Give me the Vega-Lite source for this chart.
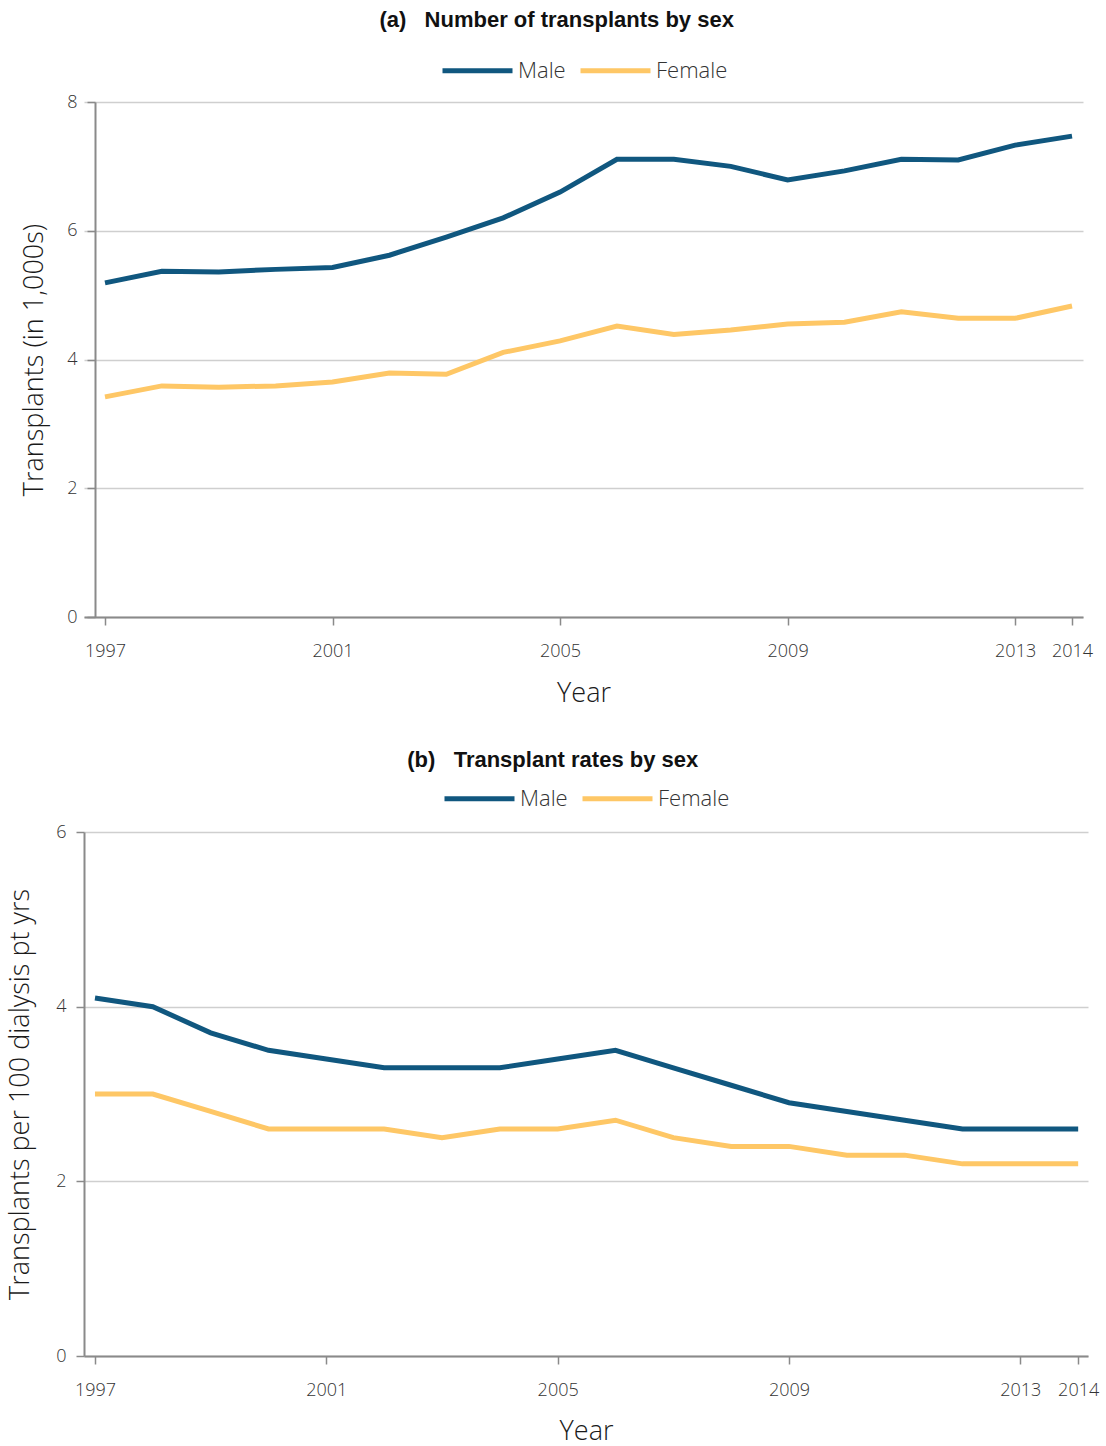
{
  "$schema": "https://vega.github.io/schema/vega-lite/v6.json",
  "background": "white",
  "padding": {"left": 6, "top": 9, "right": 4, "bottom": 0},
  "columns": 1,
  "spacing": 43,
  "align": "none",
  "config": {
    "view": {"stroke": null},
    "font": "Open Sans",
    "axis": {
      "domainColor": "#8a8a8a",
      "domainWidth": 2,
      "tickColor": "#8a8a8a",
      "tickWidth": 1.5,
      "tickSize": 8,
      "gridColor": "#cfcfcf",
      "gridWidth": 1.5,
      "labelColor": "#333333",
      "labelFont": "Open Sans",
      "labelFontWeight": 300,
      "labelFontSize": 18,
      "labelOverlap": false,
      "titleFont": "Open Sans",
      "titleFontWeight": 300,
      "titleFontSize": 27,
      "titleColor": "#1a1a1a"
    },
    "legend": {
      "labelFont": "Open Sans",
      "labelFontWeight": 300,
      "labelFontSize": 22,
      "labelColor": "#333333",
      "layout": {"top": {"anchor": "middle"}}
    },
    "title": {"font": "Liberation Sans", "fontSize": 22, "fontWeight": "bold", "color": "#111111", "anchor": "middle", "frame": "bounds"}
  },
  "datasets": {
    "counts": [
      {"year": 1997, "sex": "Male", "value": 5.19}, {"year": 1998, "sex": "Male", "value": 5.37}, {"year": 1999, "sex": "Male", "value": 5.36},
      {"year": 2000, "sex": "Male", "value": 5.40}, {"year": 2001, "sex": "Male", "value": 5.43}, {"year": 2002, "sex": "Male", "value": 5.62},
      {"year": 2003, "sex": "Male", "value": 5.90}, {"year": 2004, "sex": "Male", "value": 6.20}, {"year": 2005, "sex": "Male", "value": 6.60},
      {"year": 2006, "sex": "Male", "value": 7.11}, {"year": 2007, "sex": "Male", "value": 7.11}, {"year": 2008, "sex": "Male", "value": 7.00},
      {"year": 2009, "sex": "Male", "value": 6.79}, {"year": 2010, "sex": "Male", "value": 6.93}, {"year": 2011, "sex": "Male", "value": 7.11},
      {"year": 2012, "sex": "Male", "value": 7.10}, {"year": 2013, "sex": "Male", "value": 7.33}, {"year": 2014, "sex": "Male", "value": 7.47},
      {"year": 1997, "sex": "Female", "value": 3.42}, {"year": 1998, "sex": "Female", "value": 3.59}, {"year": 1999, "sex": "Female", "value": 3.57},
      {"year": 2000, "sex": "Female", "value": 3.59}, {"year": 2001, "sex": "Female", "value": 3.65}, {"year": 2002, "sex": "Female", "value": 3.79},
      {"year": 2003, "sex": "Female", "value": 3.77}, {"year": 2004, "sex": "Female", "value": 4.11}, {"year": 2005, "sex": "Female", "value": 4.29},
      {"year": 2006, "sex": "Female", "value": 4.52}, {"year": 2007, "sex": "Female", "value": 4.39}, {"year": 2008, "sex": "Female", "value": 4.46},
      {"year": 2009, "sex": "Female", "value": 4.55}, {"year": 2010, "sex": "Female", "value": 4.58}, {"year": 2011, "sex": "Female", "value": 4.74},
      {"year": 2012, "sex": "Female", "value": 4.64}, {"year": 2013, "sex": "Female", "value": 4.64}, {"year": 2014, "sex": "Female", "value": 4.83}
    ],
    "rates": [
      {"year": 1997, "sex": "Male", "value": 4.1}, {"year": 1998, "sex": "Male", "value": 4.0}, {"year": 1999, "sex": "Male", "value": 3.7},
      {"year": 2000, "sex": "Male", "value": 3.5}, {"year": 2001, "sex": "Male", "value": 3.4}, {"year": 2002, "sex": "Male", "value": 3.3},
      {"year": 2003, "sex": "Male", "value": 3.3}, {"year": 2004, "sex": "Male", "value": 3.3}, {"year": 2005, "sex": "Male", "value": 3.4},
      {"year": 2006, "sex": "Male", "value": 3.5}, {"year": 2007, "sex": "Male", "value": 3.3}, {"year": 2008, "sex": "Male", "value": 3.1},
      {"year": 2009, "sex": "Male", "value": 2.9}, {"year": 2010, "sex": "Male", "value": 2.8}, {"year": 2011, "sex": "Male", "value": 2.7},
      {"year": 2012, "sex": "Male", "value": 2.6}, {"year": 2013, "sex": "Male", "value": 2.6}, {"year": 2014, "sex": "Male", "value": 2.6},
      {"year": 1997, "sex": "Female", "value": 3.0}, {"year": 1998, "sex": "Female", "value": 3.0}, {"year": 1999, "sex": "Female", "value": 2.8},
      {"year": 2000, "sex": "Female", "value": 2.6}, {"year": 2001, "sex": "Female", "value": 2.6}, {"year": 2002, "sex": "Female", "value": 2.6},
      {"year": 2003, "sex": "Female", "value": 2.5}, {"year": 2004, "sex": "Female", "value": 2.6}, {"year": 2005, "sex": "Female", "value": 2.6},
      {"year": 2006, "sex": "Female", "value": 2.7}, {"year": 2007, "sex": "Female", "value": 2.5}, {"year": 2008, "sex": "Female", "value": 2.4},
      {"year": 2009, "sex": "Female", "value": 2.4}, {"year": 2010, "sex": "Female", "value": 2.3}, {"year": 2011, "sex": "Female", "value": 2.3},
      {"year": 2012, "sex": "Female", "value": 2.2}, {"year": 2013, "sex": "Female", "value": 2.2}, {"year": 2014, "sex": "Female", "value": 2.2}
    ]
  },
  "resolve": {"legend": {"color": "independent"}},
  "concat": [
    {
      "title": {"text": "(a)\u00a0\u00a0\u00a0Number of transplants by sex", "offset": 1},
      "width": 999,
      "height": 515,
      "data": {"name": "counts"},
      "mark": {"type": "line", "strokeWidth": 5},
      "encoding": {
        "x": {"field": "year", "type": "quantitative",
              "scale": {"domain": [1996.631, 2014.193], "nice": false, "zero": false},
              "axis": {"values": [1997, 2001, 2005, 2009, 2013, 2014], "format": "d", "title": "Year", "grid": false, "labelPadding": 17, "titlePadding": 20}},
        "y": {"field": "value", "type": "quantitative",
              "scale": {"domain": [0, 8], "nice": false},
              "axis": {"values": [0, 2, 4, 6, 8], "title": "Transplants (in 1,000s)", "offset": -11, "labelPadding": 10, "titlePadding": 18}},
        "color": {"field": "sex", "type": "nominal",
                  "scale": {"domain": ["Male", "Female"], "range": ["#10577f", "#fec766"]},
                  "legend": {"orient": "top", "direction": "horizontal", "title": null, "symbolType": "stroke", "symbolSize": 4900, "symbolStrokeWidth": 5, "columnPadding": 4, "labelOffset": 3, "offset": 20}}
      }
    },
    {
      "title": {"text": "(b)\u00a0\u00a0\u00a0Transplant rates by sex", "offset": -11},
      "width": 1004,
      "height": 524,
      "data": {"name": "rates"},
      "mark": {"type": "line", "strokeWidth": 5},
      "encoding": {
        "x": {"field": "year", "type": "quantitative",
              "scale": {"domain": [1996.81, 2014.17], "nice": false, "zero": false},
              "axis": {"values": [1997, 2001, 2005, 2009, 2013, 2014], "format": "d", "title": "Year", "grid": false, "labelPadding": 17, "titlePadding": 19}},
        "y": {"field": "value", "type": "quantitative",
              "scale": {"domain": [0, 6], "nice": false},
              "axis": {"values": [0, 2, 4, 6], "title": "Transplants per 100 dialysis pt yrs", "labelPadding": 10, "titlePadding": 21}},
        "color": {"field": "sex", "type": "nominal",
                  "scale": {"domain": ["Male", "Female"], "range": ["#10577f", "#fec766"]},
                  "legend": {"orient": "top", "direction": "horizontal", "title": null, "symbolType": "stroke", "symbolSize": 4900, "symbolStrokeWidth": 5, "columnPadding": 4, "labelOffset": 3, "offset": 22}}
      }
    }
  ]
}
